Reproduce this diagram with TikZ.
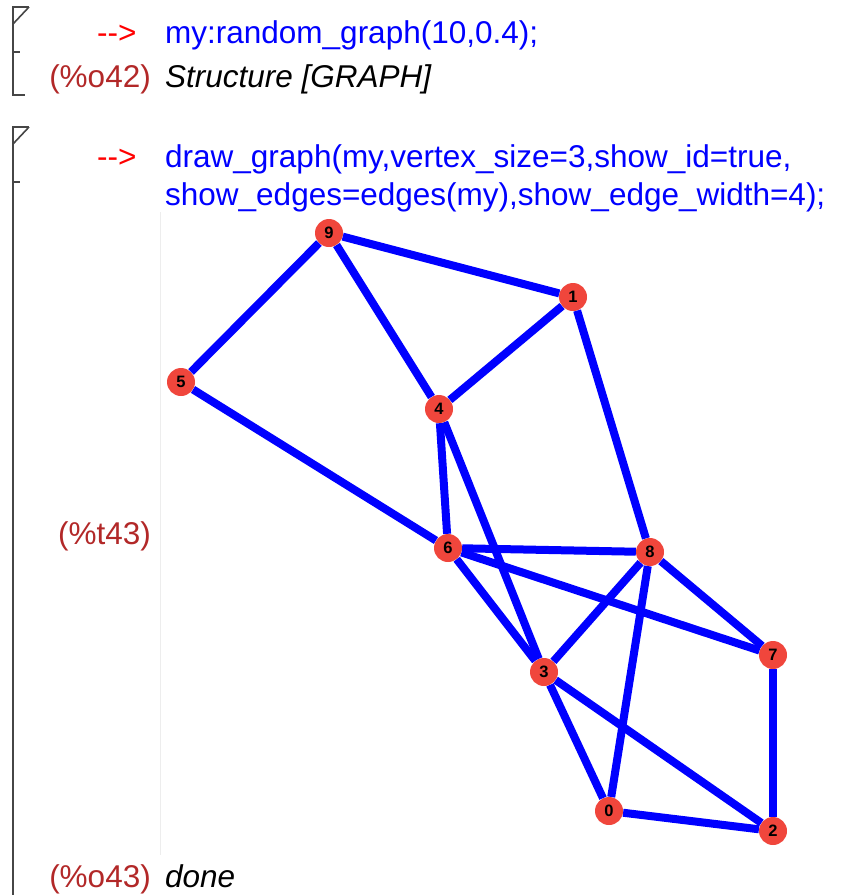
\documentclass[tikz,border=0pt]{standalone}
\usepackage{fontspec}
\setmainfont{Liberation Sans}
\usepackage{xcolor}
\usepackage{tikz}
\usetikzlibrary{positioning}

\definecolor{promptred}{RGB}{255,0,0}
\definecolor{codeblue}{RGB}{0,0,255}
\definecolor{labelred}{RGB}{178,40,40}
\definecolor{vertexred}{RGB}{240,70,60}
\definecolor{bracketgray}{RGB}{70,70,70}

\begin{document}
\begin{tikzpicture}[
    x=1pt, y=-1pt,
    prompt/.style={
        anchor=base west,
        inner sep=0pt,
        text=promptred,
        font=\fontsize{31.5}{31.5}\selectfont
    },
    input/.style={
        anchor=base west,
        inner sep=0pt,
        text=codeblue,
        font=\fontsize{31.5}{31.5}\selectfont
    },
    outlabel/.style={
        anchor=base east,
        inner sep=0pt,
        text=labelred,
        font=\fontsize{31.5}{31.5}\selectfont
    },
    output/.style={
        anchor=base west,
        inner sep=0pt,
        font=\fontsize{31.5}{31.5}\selectfont\itshape
    },
    vertex/.style={
        circle,
        fill=vertexred,
        minimum size=28pt,
        inner sep=0pt,
        font=\fontsize{16.5}{16.5}\selectfont\bfseries
    },
    edge/.style={
        codeblue,
        line width=8pt
    },
    bracket/.style={
        bracketgray,
        line width=1.6pt
    }
]

\useasboundingbox (0,0) rectangle (843,895);

% Cell brackets

\draw[bracket] (29,7) -- (13,7) -- (13,95) -- (25,95);
\draw[bracket] (29,7) -- (13,24);
\draw[bracket] (13,52) -- (20,52);

\draw[bracket] (29,127) -- (13,127) -- (13,895);
\draw[bracket] (29,127) -- (13,144);
\draw[bracket] (13,182) -- (20,182);

% Picture frame
\draw[black!7, line width=1pt] (160,212) -- (160,855);

% Input and output lines

\node[prompt] (arrowa) at (97,43) {-\/->};
\node[input] (randcmd) at (165,43) {my:random\_graph(10,0.4);};
\node[outlabel] (olabela) at (151,87) {(\%o42)};
\node[output] (structure) at (165,87) {Structure [GRAPH]};

\node[prompt] (arrowb) at (97,167) {-\/->};
\node[input] (drawcmd) at (165,167) {draw\_graph(my,vertex\_size=3,show\_id=true,};
\node[input] (drawcmdb) at (165,205) {show\_edges=edges(my),show\_edge\_width=4);};

\node[outlabel] (tlabel) at (151,544) {(\%t43)};
\node[outlabel] (olabelb) at (151,887) {(\%o43)};
\node[output] (done) at (165,887) {done};

% Vertices

\node[vertex] (v9) at (329,233) {9};
\node[vertex] (v1) at (573,297) {1};
\node[vertex] (v5) at (181,382) {5};
\node[vertex] (v4) at (439,409) {4};
\node[vertex] (v6) at (448,548) {6};
\node[vertex] (v8) at (650,552) {8};
\node[vertex] (v7) at (773,655) {7};
\node[vertex] (v3) at (544,672) {3};
\node[vertex] (v0) at (609,811) {0};
\node[vertex] (v2) at (773,831) {2};

% Edges

\draw[edge] (v9)--(v1);
\draw[edge] (v9)--(v5);
\draw[edge] (v9)--(v4);
\draw[edge] (v1)--(v4);
\draw[edge] (v1)--(v8);
\draw[edge] (v5)--(v6);
\draw[edge] (v4)--(v6);
\draw[edge] (v4)--(v3);
\draw[edge] (v6)--(v8);
\draw[edge] (v6)--(v7);
\draw[edge] (v6)--(v3);
\draw[edge] (v8)--(v7);
\draw[edge] (v8)--(v3);
\draw[edge] (v8)--(v0);
\draw[edge] (v3)--(v0);
\draw[edge] (v3)--(v2);
\draw[edge] (v0)--(v2);
\draw[edge] (v7)--(v2);

\end{tikzpicture}
\end{document}
